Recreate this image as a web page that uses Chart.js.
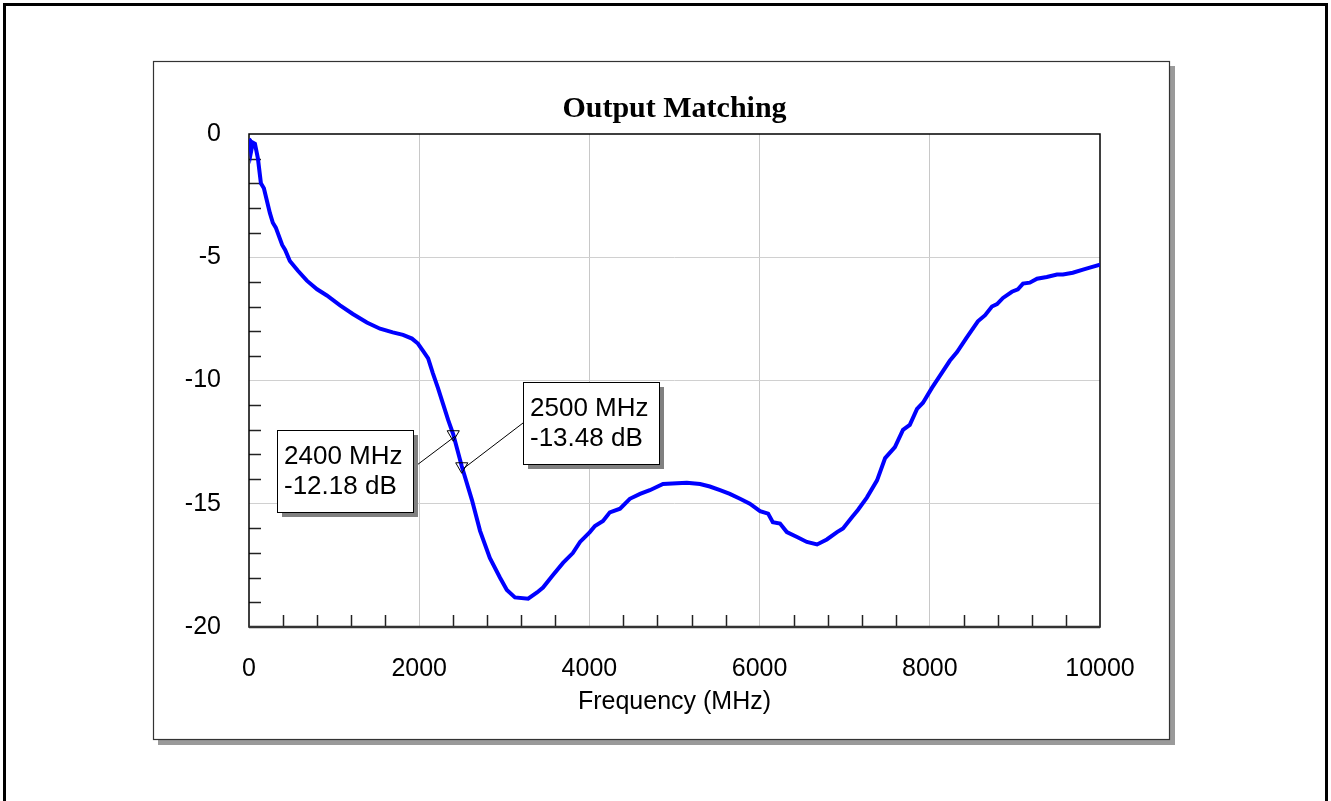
<!DOCTYPE html>
<html>
<head>
<meta charset="utf-8">
<title>Output Matching</title>
<script src="https://cdn.jsdelivr.net/npm/chart.js@4.4.0/dist/chart.umd.min.js"></script>
<style>
  html, body { margin: 0; padding: 0; background: #fff; }
  #wrap { width: 1331px; height: 801px; }
</style>
</head>
<body>
<div id="wrap"><canvas id="chart" width="1331" height="801"></canvas></div>
<script>
// Output match trace (MHz / dB)
const freqMHz = [
  0, 10, 25, 45, 70, 105, 140, 175, 245, 280, 315, 390, 425, 480, 575, 680,
  800, 915, 1070, 1220, 1385, 1540, 1690, 1810, 1915, 1985, 2045, 2105, 2160,
  2220, 2280, 2340, 2400, 2500, 2620, 2715, 2830, 2950, 3030, 3125, 3280,
  3385, 3455, 3570, 3690, 3805, 3890, 4005, 4065, 4160, 4240, 4360, 4475,
  4595, 4710, 4865, 5030, 5145, 5300, 5415, 5535, 5650, 5770, 5885, 6005,
  6100, 6155, 6240, 6320, 6440, 6555, 6675, 6790, 6910, 6980, 7085, 7155,
  7260, 7380, 7475, 7590, 7685, 7765, 7850, 7920, 8025, 8120, 8235, 8320,
  8435, 8565, 8650, 8730, 8790, 8860, 8965, 9035, 9095, 9175, 9260, 9375,
  9495, 9565, 9680, 9800, 9880, 10000
];
const s22dB = [
  -0.2, -0.25, -0.7, -0.35, -0.4, -1.0, -2.0, -2.2, -3.2, -3.6, -3.8, -4.5, -4.7, -5.15, -5.55, -5.95,
  -6.3, -6.55, -6.95, -7.3, -7.65, -7.9, -8.05, -8.15, -8.3, -8.5, -8.8, -9.1, -9.7,
  -10.3, -10.95, -11.6, -12.18, -13.48, -14.85, -16.1, -17.2, -18.0, -18.5, -18.8, -18.85,
  -18.6, -18.4, -17.9, -17.4, -17.0, -16.55, -16.15, -15.9, -15.7, -15.35, -15.2, -14.8,
  -14.6, -14.45, -14.2, -14.17, -14.15, -14.2, -14.3, -14.45, -14.6, -14.8, -15.0, -15.3,
  -15.4, -15.75, -15.8, -16.15, -16.35, -16.55, -16.65, -16.45, -16.15, -16.0, -15.55, -15.25,
  -14.75, -14.05, -13.15, -12.7, -12.0, -11.8, -11.15, -10.9, -10.3, -9.8, -9.2, -8.85,
  -8.25, -7.6, -7.35, -7.0, -6.9, -6.65, -6.4, -6.3, -6.07, -6.03, -5.87, -5.8,
  -5.7, -5.7, -5.63, -5.5, -5.42, -5.3
];

// marker readouts
const markerFreq = [2400, 2500];
const markerDb = [-12.18, -13.48];

// axis ticks
const xTickValues = [0, 2000, 4000, 6000, 8000, 10000];
const yTickValues = [0, -5, -10, -15, -20];
const xMinorStep = 400;
const yMinorStep = 1;

const FONT = "'Liberation Sans', Arial, Helvetica, sans-serif";

// page border, grey-shadowed panel, then plot frame + inside minor ticks
const framePlugin = {
  id: 'frames',
  beforeDraw(chart) {
    const ctx = chart.ctx;
    ctx.save();
    ctx.fillStyle = '#fff';
    ctx.fillRect(0, 0, chart.width, chart.height);
    ctx.strokeStyle = '#000';
    ctx.lineWidth = 3;
    ctx.strokeRect(4.5, 4.5, 1322, 900);
    ctx.fillStyle = '#9a9a9a';
    ctx.fillRect(158, 66, 1017, 679);
    ctx.fillStyle = '#fff';
    ctx.fillRect(153, 61, 1017, 679);
    ctx.strokeStyle = '#333';
    ctx.lineWidth = 1.2;
    ctx.strokeRect(153.5, 61.5, 1016, 678);
    ctx.restore();
  },
  beforeDatasetsDraw(chart) {
    const { ctx, chartArea: a, scales } = chart;
    ctx.save();
    ctx.strokeStyle = '#222';
    ctx.lineWidth = 1.5;
    // minor ticks along the bottom
    for (let f = xMinorStep; f < 10000; f += xMinorStep) {
      if (f % 2000 === 0) continue;
      const px = Math.round(scales.x.getPixelForValue(f)) + 0.5;
      ctx.beginPath();
      ctx.moveTo(px, a.bottom);
      ctx.lineTo(px, a.bottom - 12);
      ctx.stroke();
    }
    // minor ticks along the left
    for (let d = -19; d < 0; d += yMinorStep) {
      if (d % 5 === 0) continue;
      const py = Math.round(scales.y.getPixelForValue(d)) + 0.5;
      ctx.beginPath();
      ctx.moveTo(a.left, py);
      ctx.lineTo(a.left + 12, py);
      ctx.stroke();
    }
    // plot frame
    ctx.strokeStyle = '#000';
    ctx.lineWidth = 1.5;
    ctx.strokeRect(a.left, a.top, a.right - a.left, a.bottom - a.top);
    ctx.strokeStyle = '#333';
    ctx.lineWidth = 2.5;
    ctx.beginPath();
    ctx.moveTo(a.left, a.bottom);
    ctx.lineTo(a.right, a.bottom);
    ctx.stroke();
    ctx.restore();
  }
};

// marker callout boxes with leader lines
const calloutPlugin = {
  id: 'callouts',
  afterDatasetsDraw(chart) {
    const { ctx, scales } = chart;
    // box offsets relative to each marker point
    const place = [
      { dx: -176, dy: -4, lineFromRight: true, ly: 38 },
      { dx: 61, dy: -84, lineFromRight: false, ly: 41 }
    ];
    ctx.save();
    ctx.font = '26px ' + FONT;
    markerFreq.forEach((f, i) => {
      const mx = scales.x.getPixelForValue(f);
      const my = scales.y.getPixelForValue(markerDb[i]);
      const lines = [f + ' MHz', markerDb[i].toFixed(2) + ' dB'];
      const tw = Math.max(...lines.map(t => ctx.measureText(t).width));
      const w = Math.round(tw + 18);
      const h = 82;
      const p = place[i];
      const bx = Math.round(mx + p.dx);
      const by = Math.round(my + p.dy);
      // leader
      ctx.strokeStyle = '#000';
      ctx.lineWidth = 1;
      ctx.beginPath();
      ctx.moveTo(p.lineFromRight ? bx + w : bx, by + p.ly);
      ctx.lineTo(mx + 2, my + 2);
      ctx.stroke();
      // shadow + box
      ctx.fillStyle = '#808080';
      ctx.fillRect(bx + 5, by + 5, w, h);
      ctx.fillStyle = '#fff';
      ctx.fillRect(bx, by, w, h);
      ctx.strokeRect(bx + 0.5, by + 0.5, w, h);
      ctx.fillStyle = '#000';
      ctx.textAlign = 'left';
      ctx.textBaseline = 'middle';
      ctx.fillText(lines[0], bx + 7, by + 27);
      ctx.fillText(lines[1], bx + 7, by + 57);
    });
    ctx.restore();
  }
};

const ctx = document.getElementById('chart').getContext('2d');
new Chart(ctx, {
  type: 'line',
  data: {
    datasets: [
      {
        label: 'Markers',
        data: markerFreq.map((f, i) => ({ x: f, y: markerDb[i] })),
        showLine: false,
        pointStyle: 'triangle',
        rotation: 180,
        pointRadius: 7,
        pointBackgroundColor: 'rgba(0,0,0,0)',
        pointBorderColor: '#000',
        pointBorderWidth: 1
      },
      {
        label: 'Output Matching',
        data: freqMHz.map((f, i) => ({ x: f, y: s22dB[i] })),
        borderColor: '#0000ff',
        borderWidth: 4,
        pointRadius: 0,
        tension: 0,
        fill: false
      }
    ]
  },
  options: {
    responsive: false,
    animation: false,
    layout: { padding: { left: 0, right: 231, top: 70, bottom: 84 } },
    plugins: {
      legend: { display: false },
      tooltip: { enabled: false },
      title: {
        display: true,
        text: 'Output Matching',
        fullSize: false,
        color: '#000',
        font: { family: "'Liberation Serif', 'Times New Roman', serif", size: 30, weight: 'bold', lineHeight: 1.2 },
        padding: { top: 21, bottom: 7 }
      }
    },
    scales: {
      x: {
        type: 'linear',
        min: 0,
        max: 10000,
        afterBuildTicks: (s) => { s.ticks = xTickValues.map(v => ({ value: v })); },
        afterFit: (s) => { s.height = 90; },
        ticks: {
          color: '#000',
          padding: 27,
          maxRotation: 0,
          font: { family: FONT, size: 25 },
          callback: (v) => String(v)
        },
        grid: {
          drawTicks: false,
          color: (c) => (c.tick && (c.tick.value === 0 || c.tick.value === 10000)) ? 'rgba(0,0,0,0)' : '#c8c8c8',
          lineWidth: 1
        },
        border: { display: false },
        title: {
          display: true,
          text: 'Frequency (MHz)',
          color: '#000',
          font: { family: FONT, size: 25 },
          padding: 0
        }
      },
      y: {
        type: 'linear',
        min: -20,
        max: 0,
        afterBuildTicks: (s) => { s.ticks = yTickValues.map(v => ({ value: v })); },
        afterFit: (s) => { s.width = 249; },
        ticks: {
          color: '#000',
          padding: 28,
          font: { family: FONT, size: 25 },
          callback: (v) => String(v)
        },
        grid: {
          drawTicks: false,
          color: (c) => (c.tick && (c.tick.value === 0 || c.tick.value === -20)) ? 'rgba(0,0,0,0)' : '#d0d0d0',
          lineWidth: 1
        },
        border: { display: false }
      }
    }
  },
  plugins: [framePlugin, calloutPlugin]
});
</script>
</body>
</html>
